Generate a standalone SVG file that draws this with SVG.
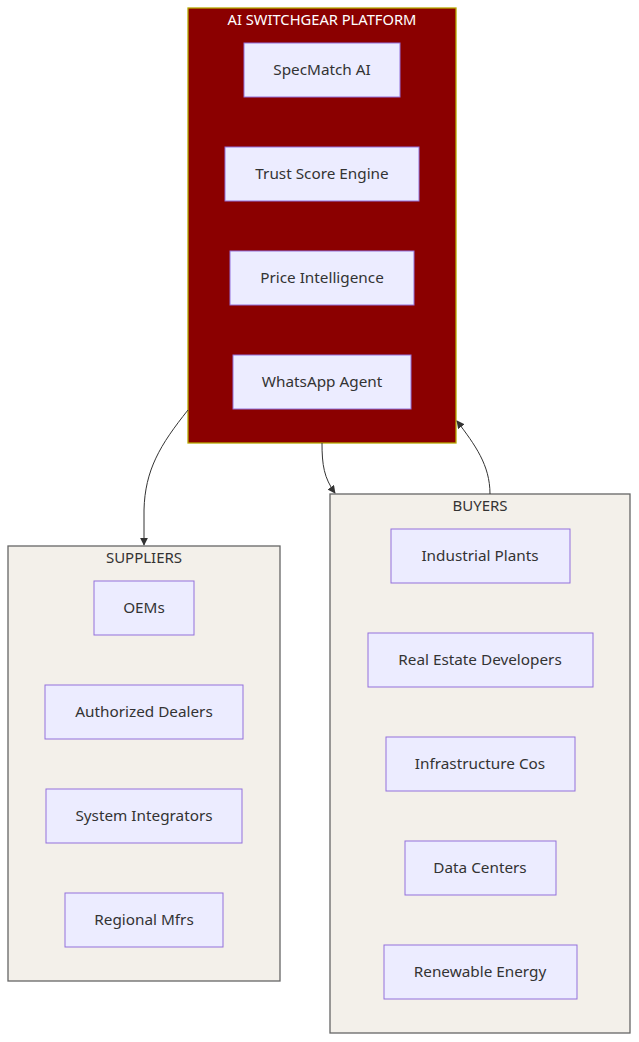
<svg xmlns="http://www.w3.org/2000/svg" width="639" height="1042" viewBox="0 0 639 1042">
<style>
.bg{fill:#ffffff}
.cl{fill:#f3f0ea;stroke:#666666;stroke-width:1.3}
.pl{fill:#8b0000;stroke:#b5a800;stroke-width:1.3}
.nd{fill:#ececff;stroke:#9370db;stroke-width:1}
text{font-family:"Noto Sans","Open Sans",sans-serif;font-size:15.3px;fill:#333333;text-anchor:middle;dominant-baseline:central}
.ct{fill:#333333;font-size:15px}
.pt{fill:#ffffff;font-size:14.7px}
.ed{fill:none;stroke:#333333;stroke-width:1}
</style>
<defs>
<marker id="ah" viewBox="0 0 10 10" refX="9" refY="5" markerWidth="8" markerHeight="8" markerUnits="userSpaceOnUse" orient="auto">
<path d="M0,0 L10,5 L0,10 z" fill="#333333"/>
</marker>
</defs>
<rect class="bg" x="0" y="0" width="639" height="1042"/>
<g id="platform">
<rect class="pl" x="188" y="8" width="268" height="435"/>
<text class="pt" x="322" y="18.5">AI SWITCHGEAR PLATFORM</text>
</g>
<g id="suppliers">
<rect class="cl" x="8" y="546" width="272" height="435"/>
<text class="ct" x="144" y="556.5">SUPPLIERS</text>
</g>
<g id="buyers">
<rect class="cl" x="330" y="494" width="300" height="539"/>
<text class="ct" x="480" y="504.5">BUYERS</text>
</g>
<g id="edges">
<path class="ed" d="M188,410 C160,445 145,470 144,510 L144,545" marker-end="url(#ah)"/>
<path class="ed" d="M322,443 C322,465 324,478 335,493" marker-end="url(#ah)"/>
<path class="ed" d="M490,494 C490,465 475,445 457,421" marker-end="url(#ah)"/>
</g>
<g id="specmatch"><rect class="nd" x="244" y="43" width="156" height="54"/><text x="322" y="69">SpecMatch AI</text></g>
<g id="trustscore"><rect class="nd" x="225" y="147" width="194" height="54"/><text x="322" y="173">Trust Score Engine</text></g>
<g id="priceintel"><rect class="nd" x="230" y="251" width="184" height="54"/><text x="322" y="277">Price Intelligence</text></g>
<g id="whatsapp"><rect class="nd" x="233" y="355" width="178" height="54"/><text x="322" y="381">WhatsApp Agent</text></g>
<g id="oems"><rect class="nd" x="94" y="581" width="100" height="54"/><text x="144" y="607">OEMs</text></g>
<g id="dealers"><rect class="nd" x="45" y="685" width="198" height="54"/><text x="144" y="711">Authorized Dealers</text></g>
<g id="integrators"><rect class="nd" x="46" y="789" width="196" height="54"/><text x="144" y="815">System Integrators</text></g>
<g id="regional"><rect class="nd" x="65" y="893" width="158" height="54"/><text x="144" y="919">Regional Mfrs</text></g>
<g id="industrial"><rect class="nd" x="391" y="529" width="179" height="54"/><text x="480" y="555">Industrial Plants</text></g>
<g id="realestate"><rect class="nd" x="368" y="633" width="225" height="54"/><text x="480" y="659">Real Estate Developers</text></g>
<g id="infra"><rect class="nd" x="386" y="737" width="189" height="54"/><text x="480" y="763">Infrastructure Cos</text></g>
<g id="datacenters"><rect class="nd" x="405" y="841" width="151" height="54"/><text x="480" y="867">Data Centers</text></g>
<g id="renewable"><rect class="nd" x="384" y="945" width="193" height="54"/><text x="480" y="971">Renewable Energy</text></g>
</svg>
